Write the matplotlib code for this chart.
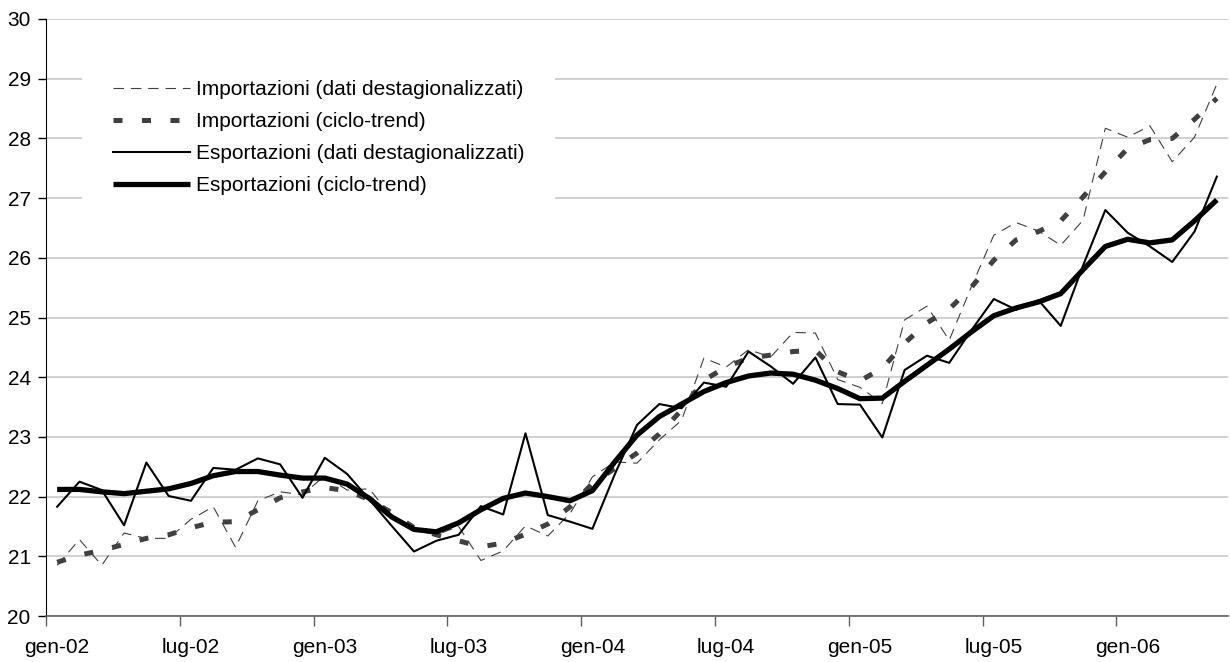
import numpy as np
import matplotlib
matplotlib.use("Agg")
import matplotlib.pyplot as plt

# dati mensili gen-02 .. mag-06
imp_dest = [20.85, 21.28, 20.85, 21.39, 21.30, 21.30, 21.62, 21.83, 21.15, 21.93, 22.08, 22.03,
            22.35, 22.11, 22.13, 21.66, 21.44, 21.36, 21.50, 20.93, 21.09, 21.51, 21.34, 21.72,
            22.33, 22.58, 22.56, 22.95, 23.28, 24.32, 24.17, 24.46, 24.34, 24.75, 24.74, 23.96,
            23.83, 23.56, 24.96, 25.19, 24.62, 25.52, 26.38, 26.59, 26.45, 26.21, 26.63, 28.17,
            28.02, 28.21, 27.61, 28.02, 28.91]
imp_trend = [20.90, 21.02, 21.10, 21.20, 21.30, 21.36, 21.48, 21.57, 21.58, 21.78, 21.98, 22.08,
             22.15, 22.10, 21.95, 21.73, 21.48, 21.36, 21.26, 21.16, 21.22, 21.37, 21.54, 21.83,
             22.22, 22.47, 22.73, 23.05, 23.45, 23.95, 24.17, 24.32, 24.37, 24.43, 24.45, 24.09,
             23.94, 24.15, 24.57, 24.91, 25.14, 25.51, 25.96, 26.30, 26.44, 26.62, 27.02, 27.44,
             27.83, 27.98, 28.00, 28.32, 28.67]
exp_dest = [21.83, 22.25, 22.11, 21.52, 22.57, 22.01, 21.93, 22.48, 22.45, 22.64, 22.54, 21.98,
            22.65, 22.38, 21.95, 21.51, 21.08, 21.26, 21.36, 21.84, 21.70, 23.06, 21.69, 21.58,
            21.46, 22.37, 23.20, 23.55, 23.48, 23.91, 23.84, 24.43, 24.18, 23.89, 24.33, 23.55,
            23.54, 22.99, 24.12, 24.36, 24.24, 24.79, 25.31, 25.13, 25.29, 24.86, 25.87, 26.80,
            26.42, 26.19, 25.93, 26.44, 27.36]
exp_trend = [22.12, 22.12, 22.08, 22.05, 22.09, 22.13, 22.22, 22.35, 22.42, 22.42, 22.36, 22.31,
             22.31, 22.21, 21.97, 21.66, 21.45, 21.41, 21.56, 21.78, 21.97, 22.06, 22.00, 21.93,
             22.10, 22.58, 23.03, 23.34, 23.55, 23.76, 23.91, 24.02, 24.07, 24.05, 23.95, 23.81,
             23.64, 23.65, 23.93, 24.20, 24.47, 24.76, 25.03, 25.16, 25.26, 25.40, 25.80, 26.19,
             26.31, 26.25, 26.30, 26.62, 26.97]

etichette_x = ["gen-02", "lug-02", "gen-03", "lug-03", "gen-04", "lug-04",
               "gen-05", "lug-05", "gen-06"]
nomi = ["Importazioni (dati destagionalizzati)", "Importazioni (ciclo-trend)",
        "Esportazioni (dati destagionalizzati)", "Esportazioni (ciclo-trend)"]

plt.rcParams["font.family"] = ["Liberation Sans", "DejaVu Sans"]
plt.rcParams["lines.scale_dashes"] = False

fig = plt.figure(figsize=(12.3, 6.62), dpi=100)
ax = fig.add_axes([46 / 1230, 1 - 616 / 662, (1228 - 46) / 1230, (616 - 19) / 662])

x = np.arange(len(exp_dest))

ax.plot(x, imp_dest, color="#404040", lw=0.8, linestyle=(0, (7.5, 5)), label=nomi[0])
ax.plot(x, imp_trend, color="#404040", lw=3.6, linestyle=(0, (6.5, 14)),
        dash_capstyle="butt", label=nomi[1])
ax.plot(x, exp_dest, color="black", lw=1.5, label=nomi[2])
ax.plot(x, exp_trend, color="black", lw=3.8, solid_capstyle="butt", label=nomi[3])

ax.set_xlim(-0.5, len(x) - 0.5)
ax.set_ylim(20, 30)
ax.set_yticks(range(20, 31))

# tacche tra le categorie, etichette centrate
ax.set_xticks(np.arange(-0.5, 48, 6))
ax.set_xticklabels([])
ax.set_xticks(np.arange(0, 49, 6), minor=True)
ax.set_xticklabels(etichette_x, minor=True)
ax.tick_params(axis="x", which="major", direction="out", length=7, color="#606060", width=1)
ax.tick_params(axis="x", which="minor", length=0, pad=16, labelsize=15)
ax.tick_params(axis="y", direction="out", length=6, width=1, pad=5, labelsize=15)

ax.grid(axis="y", color="#c8c8c8", lw=1.2)
ax.set_axisbelow(True)
for s in ["top", "right"]:
    ax.spines[s].set_visible(False)
ax.spines["left"].set_color("black")
ax.spines["bottom"].set_color("#606060")
ax.spines["bottom"].set_linewidth(1.2)

leg = ax.legend(loc="upper left", bbox_to_anchor=(82 / 1230, 1 - 49 / 662),
                bbox_transform=fig.transFigure, borderaxespad=0, borderpad=1.5,
                fontsize=15, handlelength=3.7, handletextpad=0.25, labelspacing=0.62,
                frameon=True, fancybox=False, framealpha=1, facecolor="white",
                edgecolor="none")

plt.savefig("out.png", dpi=100)
